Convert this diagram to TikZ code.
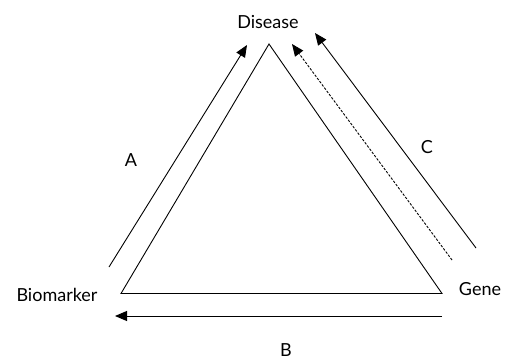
\documentclass[tikz,border=0pt]{standalone}
\usepackage{fontspec}
\setmainfont{Lato}
\usetikzlibrary{arrows.meta}
\begin{document}
\begin{tikzpicture}[x=1pt,y=-1pt,
  edge/.style={line width=0.9pt, line cap=round},
  flow/.style={line width=0.9pt, -{Triangle[length=12pt,width=10pt]}},
  label/.style={font=\fontsize{18}{20}\selectfont, inner sep=0pt, anchor=center}]
  \useasboundingbox (0,0) rectangle (509,360);

  % corner points of the triangle
  \coordinate (top) at (269,44);
  \coordinate (left) at (121,293.5);
  \coordinate (right) at (442,293.5);

  % triangle
  \draw[edge] (left) -- (top) -- (right) -- cycle;

  % vertex names
  \node[label] (disease) at (268,22) {Disease};
  \node[label] (biomarker) at (57,295) {Biomarker};
  \node[label] (gene) at (480,289) {Gene};

  % arrow A: biomarker to disease
  \coordinate (aS) at (109,267);
  \coordinate (aE) at (247,45);
  \draw[flow] (aS) -- (aE);
  \node[label] (la) at (131,160) {A};

  % arrow B: gene to biomarker
  \coordinate (bS) at (442,316);
  \coordinate (bE) at (115,316);
  \draw[flow] (bS) -- (bE);
  \node[label] (lb) at (286,350) {B};

  % arrow C: gene to disease, and the dashed indirect path
  \coordinate (cS) at (476,248);
  \coordinate (cE) at (315,33);
  \draw[flow] (cS) -- (cE);
  \coordinate (dS) at (452,260);
  \coordinate (dE) at (292,44);
  \draw[flow, dashed, dash pattern=on 2.5pt off 1.5pt] (dS) -- (dE);
  \node[label] (lc) at (427,147) {C};
\end{tikzpicture}
\end{document}
